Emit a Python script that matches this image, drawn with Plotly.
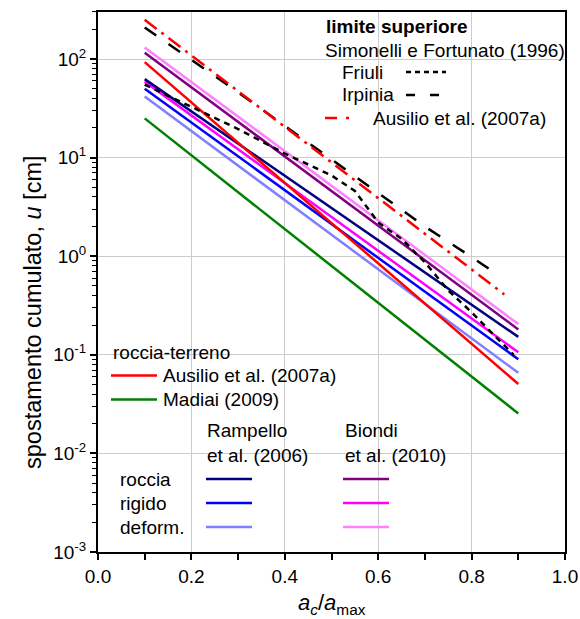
import plotly.graph_objects as go

# ---- data -------------------------------------------------------------
# straight-line fits evaluated at the ends of the a_c/a_max interval
x_fit = [0.1, 0.9]
ausilio_rt = [93, 0.0505]        # roccia-terreno, Ausilio et al. (2007a)
madiai = [25, 0.0254]            # Madiai (2009)
rampello_roccia = [62.5, 0.152]
rampello_rigido = [50, 0.090]
rampello_deform = [41.6, 0.0656]
biondi_roccia = [116, 0.181]
biondi_rigido = [59, 0.106]
biondi_deform = [131, 0.205]

# upper bounds
friuli_x = [0.1, 0.2, 0.3, 0.4, 0.5, 0.55, 0.6, 0.65, 0.7, 0.75, 0.8, 0.85, 0.89]
friuli_u = [55, 33, 19.5, 11, 6.6, 4.6, 2.2, 1.5, 0.87, 0.45, 0.27, 0.155, 0.10]
irpinia_x = [0.1, 0.2, 0.3, 0.4, 0.5, 0.6, 0.7, 0.8, 0.85]
irpinia_u = [209, 98, 46, 21, 9.6, 4.4, 2.0, 0.98, 0.68]
ausilio_ub_x = [0.1, 0.87]
ausilio_ub_u = [250, 0.41]

y_tickvals = [1e-3, 1e-2, 1e-1, 1e0, 1e1, 1e2]
y_ticktext = ["10<sup>-3</sup>", "10<sup>-2</sup>", "10<sup>-1</sup>",
              "10<sup>0</sup>", "10<sup>1</sup>", "10<sup>2</sup>"]

# ---- colours ----------------------------------------------------------
C_RED = "#ff0000"
C_GREEN = "#008000"
C_NAVY = "#000080"
C_BLUE = "#0000ff"
C_LBLUE = "#8080ff"
C_PURPLE = "#800080"
C_MAGENTA = "#ff00ff"
C_PINK = "#ff80ff"

FONT = "Liberation Sans, Arial, sans-serif"
FS = 19
LW = 2.5

# figure geometry (pixels)
W, H = 580, 619
ML, MR, MT, MB = 98, 15, 12, 67
PW, PH = W - ML - MR, H - MT - MB


def px(xp):
    return (xp - ML) / PW


def py(yp):
    return (H - MB - yp) / PH


fig = go.Figure()


def add_line(x, y, color, dash="solid"):
    fig.add_trace(go.Scatter(x=x, y=y, mode="lines",
                             line=dict(color=color, width=LW, dash=dash),
                             showlegend=False, hoverinfo="skip"))


add_line(x_fit, madiai, C_GREEN)
add_line(x_fit, rampello_deform, C_LBLUE)
add_line(x_fit, rampello_rigido, C_BLUE)
add_line(x_fit, biondi_rigido, C_MAGENTA)
add_line(x_fit, rampello_roccia, C_NAVY)
add_line(x_fit, ausilio_rt, C_RED)
add_line(x_fit, biondi_roccia, C_PURPLE)
add_line(x_fit, biondi_deform, C_PINK)
add_line(friuli_x, friuli_u, "black", "6px,5px")
add_line(irpinia_x, irpinia_u, "black", "14px,15px")
add_line(ausilio_ub_x, ausilio_ub_u, C_RED, "15px,6px,3px,6px")

shapes = []
annotations = []

# white panels behind the two key blocks (above grid, below traces)
for x0, x1, y0, y1 in [(325, 564, 13, 150), (112, 345, 340, 542), (343, 453, 417, 542)]:
    shapes.append(dict(type="rect", xref="paper", yref="paper",
                       x0=px(x0), x1=px(x1), y0=py(y1), y1=py(y0),
                       fillcolor="white", line=dict(width=0), layer="between"))


def text(xp, yp, s, bold=False):
    annotations.append(dict(xref="paper", yref="paper", x=px(xp), y=py(yp),
                            xanchor="left", yanchor="middle", showarrow=False,
                            borderpad=0,
                            text=("<b>%s</b>" % s) if bold else s,
                            font=dict(family=FONT, size=FS, color="black")))


def sample(x0, x1, yp, color, dash="solid"):
    shapes.append(dict(type="line", xref="paper", yref="paper",
                       x0=px(x0), x1=px(x1), y0=py(yp), y1=py(yp),
                       line=dict(color=color, width=LW, dash=dash), layer="above"))


# upper-bound key
text(325, 26.5, "limite superiore", bold=True)
text(324, 50, "Simonelli e Fortunato (1996)")
text(341, 72, "Friuli")
sample(406, 446, 72, "black", "5px,4px")
text(341, 95, "Irpinia")
sample(406, 441, 95, "black", "9px,15px")
sample(325, 351, 118, C_RED, "12px,9px,3px,9px")
text(372, 118, "Ausilio et al. (2007a)")

# roccia-terreno key
text(112, 352, "roccia-terreno")
sample(111, 157, 375.5, C_RED)
text(162, 375.5, "Ausilio et al. (2007a)")
sample(111, 157, 399.5, C_GREEN)
text(162, 399.5, "Madiai (2009)")

text(206, 430, "Rampello")
text(206, 455, "et al. (2006)")
text(344, 430, "Biondi")
text(344, 455, "et al. (2010)")

rows = [("roccia", 479, C_NAVY, C_PURPLE),
        ("rigido", 503, C_BLUE, C_MAGENTA),
        ("deform.", 527, C_LBLUE, C_PINK)]
for label, yp, c1, c2 in rows:
    text(119, yp, label)
    sample(206, 252, yp, c1)
    sample(343, 389, yp, c2)

# axis titles
annotations.append(dict(xref="paper", yref="paper", x=px(33), y=py(312),
                        xanchor="center", yanchor="middle", showarrow=False,
                        textangle=-90, borderpad=0,
                        text="spostamento cumulato, <i>u</i> [cm]",
                        font=dict(family=FONT, size=23.5, color="black")))
annotations.append(dict(xref="paper", yref="paper", x=px(331.5), y=py(604),
                        xanchor="center", yanchor="middle", showarrow=False,
                        borderpad=0,
                        text="<i>a</i><sub><i>c</i></sub>/<i>a</i><sub>max</sub>",
                        font=dict(family=FONT, size=22, color="black")))

fig.update_layout(
    width=W, height=H,
    margin=dict(l=ML, r=MR, t=MT, b=MB, autoexpand=False),
    paper_bgcolor="white", plot_bgcolor="white",
    font=dict(family=FONT, size=FS, color="black"),
    shapes=shapes, annotations=annotations,
    showlegend=False,
)

fig.update_xaxes(
    range=[0, 1], tick0=0, dtick=0.2, tickformat=".1f", automargin=False,
    showline=True, linecolor="black", linewidth=2, mirror=True,
    ticks="outside", ticklen=6, tickwidth=1.5, tickcolor="black",
    minor=dict(ticks="outside", ticklen=6, tickwidth=1.5, tickcolor="black",
               dtick=0.1, showgrid=False),
    showgrid=True, gridcolor="#cccccc", gridwidth=1, zeroline=False,
    tickfont=dict(family=FONT, size=FS),
)

fig.update_yaxes(
    type="log", range=[-3, 2.477], automargin=False,
    tickvals=y_tickvals, ticktext=y_ticktext,
    showline=True, linecolor="black", linewidth=2, mirror=True,
    ticks="outside", ticklen=6, tickwidth=1.5, tickcolor="black",
    minor=dict(ticks="outside", ticklen=4, tickwidth=1, tickcolor="black",
               dtick="D1", showgrid=False),
    showgrid=True, gridcolor="#cccccc", gridwidth=1, zeroline=False,
    tickfont=dict(family=FONT, size=FS),
)

fig.write_html("out.html")
